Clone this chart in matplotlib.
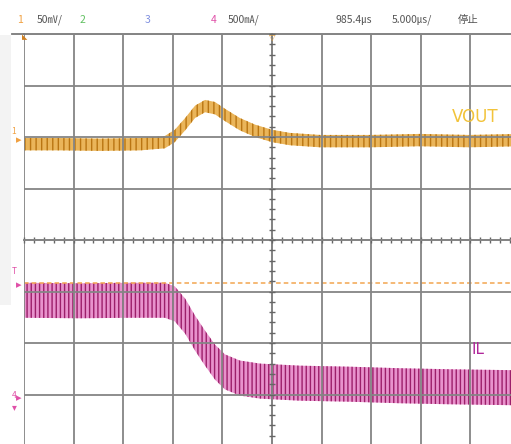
import numpy as np
import matplotlib
matplotlib.use("Agg")
import matplotlib.pyplot as plt
from matplotlib.lines import Line2D
from matplotlib.patches import Rectangle

plt.rcParams['font.family'] = ['Noto Sans CJK JP', 'DejaVu Sans']
plt.rcParams['hatch.linewidth'] = 1.0

# screen in divisions: x -5..5 (10 div), y -4..4 (8 div)
vout_x = [-5.0, -4.27, -3.47, -2.66, -2.16, -1.96, -1.75, -1.55, -1.35, -1.15,
          -0.95, -0.65, -0.34, 0.0, 0.36, 0.97, 1.98, 2.98, 3.97, 5.0]
vout_y = [1.86, 1.86, 1.85, 1.86, 1.90, 2.02, 2.25, 2.49, 2.60, 2.56,
          2.43, 2.25, 2.12, 2.02, 1.96, 1.92, 1.92, 1.94, 1.92, 1.94]
vout_hw = 0.12

# IL trace centre, band half width (ripple)
il_x = [-5.0, -3.87, -2.86, -2.16, -1.96, -1.75, -1.55, -1.35, -1.15, -0.95,
        -0.65, -0.24, 0.56, 1.57, 2.58, 3.59, 5.0]
il_y = [-1.17, -1.18, -1.17, -1.17, -1.24, -1.48, -1.81, -2.10, -2.37, -2.56,
        -2.68, -2.74, -2.78, -2.80, -2.83, -2.85, -2.87]
il_hw = 0.34

trig_level = -0.835

header = [("1", 17, "#f0a040"), ("50㎷/", 37, "#555555"), ("2", 80, "#60c060"),
          ("3", 145, "#8090e0"), ("4", 211, "#e050a8"), ("500㎃/", 228, "#555555"),
          ("985.4㎲", 335, "#555555"), ("5.000㎲/", 392, "#555555"),
          ("停止", 458, "#555555")]

W, H = 511, 444
fig = plt.figure(figsize=(W / 100, H / 100), dpi=100)
fig.patch.set_facecolor("white")

# axes: left edge px 24, centre 272, division 49.6 px wide, 51.5 px high, top px 34
ax = fig.add_axes([24 / W, (H - 446) / H, 496 / W, 412 / H])
ax.set_xlim(-5, 5)
ax.set_ylim(-4, 4)

vx = np.array(vout_x)
vy = np.array(vout_y)
ax.fill_between(vx, vy - vout_hw, vy + vout_hw, facecolor="#eab55a",
                edgecolor="#b97512", hatch="|||", linewidth=0, zorder=1)

ix = np.array(il_x)
iy = np.array(il_y)
ax.fill_between(ix, iy - il_hw, iy + il_hw, facecolor="#e892cc",
                edgecolor="#9c1f6a", hatch="||||", linewidth=0, zorder=1)

ax.axhline(trig_level, color="#f2a550", lw=1.1, ls=(0, (3, 2)), zorder=1.5)

# grid and centre axes with small ticks
ax.set_xticks(np.arange(-5, 6, 1))
ax.set_yticks(np.arange(-4, 5, 1))
ax.set_xticks(np.arange(-5, 5.01, 0.2), minor=True)
ax.set_yticks(np.arange(-4, 4.01, 0.2), minor=True)
ax.grid(True, which="major", color="#858585", lw=1.3)
ax.spines["left"].set_position(("data", 0))
ax.spines["bottom"].set_position(("data", 0))
for s in ax.spines.values():
    s.set_color("#7a7a7a")
    s.set_linewidth(1.3)
ax.tick_params(which="both", direction="inout", length=5, width=1.0,
               color="#666666", labelbottom=False, labelleft=False)
ax.set_axisbelow(False)

# labels
ax.text(3.62, 2.30, "VOUT", color="#f2c33a", fontsize=12, family="DejaVu Sans")
ax.text(4.02, -2.22, "IL", color="#b0269a", fontsize=11, family="DejaVu Sans")

# top line extends left past the grid
ytop = (H - 34) / H
fig.add_artist(Line2D([12 / W, 24 / W], [ytop, ytop], color="#7a7a7a", lw=1.3))
fig.add_artist(Rectangle((0, (H - 305) / H), 11 / W, 270 / H,
                         facecolor="#f3f3f3", edgecolor="none", zorder=0))

# header
for txt, px, col in header:
    fig.text(px / W, (H - 20) / H, txt, color=col, fontsize=7.5, va="center", ha="left")

# channel / trigger markers on left
fig.text(14 / W, (H - 132) / H, "1", color="#f0a040", fontsize=6, ha="center", va="center")
fig.text(19 / W, (H - 140) / H, "▸", color="#f0a040", fontsize=8, ha="center", va="center",
         family="DejaVu Sans")
fig.text(14 / W, (H - 271) / H, "T", color="#e050a8", fontsize=6, ha="center", va="center")
fig.text(19 / W, (H - 285) / H, "▸", color="#e050a8", fontsize=8, ha="center", va="center",
         family="DejaVu Sans")
fig.text(14 / W, (H - 395) / H, "4", color="#e050a8", fontsize=6, ha="center", va="center")
fig.text(19 / W, (H - 398) / H, "▸", color="#e050a8", fontsize=8, ha="center", va="center",
         family="DejaVu Sans")
fig.text(14 / W, (H - 407) / H, "▾", color="#e050a8", fontsize=7, ha="center", va="center",
         family="DejaVu Sans")
# trigger position and start markers at top
fig.text(272 / W, (H - 37) / H, "▽", color="#e0a040", fontsize=6, ha="center", va="center",
         family="DejaVu Sans")
fig.text(25 / W, (H - 37) / H, "◣", color="#d08020", fontsize=5, ha="center", va="center",
         family="DejaVu Sans")

fig.savefig("out.png", dpi=100)
